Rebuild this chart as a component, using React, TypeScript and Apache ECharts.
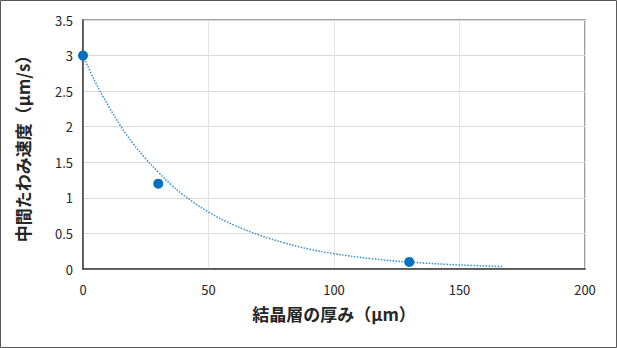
import React, { useEffect, useRef } from "react";
import * as echarts from "echarts";

// Measured points: 結晶層の厚み (µm) vs 中間たわみ速度 (µm/s)
const thicknessX = [0, 30, 130];
const speedY = [3.0, 1.2, 0.1];

// Dotted trend line
const trendX = [0, 5, 10, 15, 20, 25, 30, 35, 40, 50, 60, 70, 80, 90, 100, 115, 130, 150, 167];
const trendY = [3.0, 2.62, 2.3, 2.01, 1.76, 1.55, 1.36, 1.19, 1.04, 0.8, 0.62, 0.48, 0.37, 0.28, 0.215, 0.145, 0.097, 0.057, 0.034];

const xTitle = "結晶層の厚み（μm）";
const yTitle = "中間たわみ速度（μm/s）";

export default function App() {
  const ref = useRef<HTMLDivElement>(null);
  useEffect(() => {
    document.body.style.margin = "0";
    const chart = echarts.init(ref.current!, null, { renderer: "svg" });
    const font = "'Noto Sans CJK JP', 'Noto Sans', sans-serif";
    chart.setOption({
      animation: false,
      backgroundColor: "#ffffff",
      textStyle: { fontFamily: font },
      grid: {
        left: 83,
        right: 32,
        top: 20,
        bottom: 79,
        show: true,
        borderColor: "#7f7f7f",
        borderWidth: 1.5,
      },
      graphic: [
        {
          type: "rect",
          shape: { x: 0.5, y: 0.5, width: 616, height: 347 },
          style: { fill: "none", stroke: "#595959", lineWidth: 1 },
          silent: true,
        },
      ],
      xAxis: {
        type: "value",
        min: 0,
        max: 200,
        interval: 50,
        name: xTitle,
        nameLocation: "middle",
        nameGap: 36,
        nameTextStyle: { fontSize: 17, fontWeight: "bold", color: "#262626", fontFamily: font },
        axisLine: { show: true, lineStyle: { color: "#404040", width: 1.5 } },
        axisTick: { show: false },
        axisLabel: { fontSize: 13, color: "#262626", margin: 14, fontFamily: font },
        splitLine: { show: true, lineStyle: { color: "#e3e3e3", width: 1 } },
      },
      yAxis: {
        type: "value",
        min: 0,
        max: 3.5,
        interval: 0.5,
        name: yTitle,
        nameLocation: "middle",
        nameGap: 52,
        nameTextStyle: { fontSize: 17, fontWeight: "bold", color: "#262626", fontFamily: font },
        axisLine: { show: true, lineStyle: { color: "#404040", width: 1.5 } },
        axisTick: { show: false },
        axisLabel: { fontSize: 13, color: "#262626", margin: 10, fontFamily: font },
        splitLine: { show: true, lineStyle: { color: "#d9d9d9", width: 1 } },
      },
      series: [
        {
          type: "line",
          data: trendX.map((x, i) => [x, trendY[i]]),
          smooth: 0.4,
          showSymbol: false,
          symbol: "none",
          lineStyle: { color: "#2f8fd8", width: 1.5, type: "dotted" },
          z: 2,
        },
        {
          type: "scatter",
          data: thicknessX.map((x, i) => [x, speedY[i]]),
          symbol: "circle",
          symbolSize: 10,
          itemStyle: { color: "#0070c0", opacity: 1 },
          z: 3,
        },
      ],
    });
    return () => chart.dispose();
  }, []);
  return <div ref={ref} style={{ width: 617, height: 348 }} />;
}
